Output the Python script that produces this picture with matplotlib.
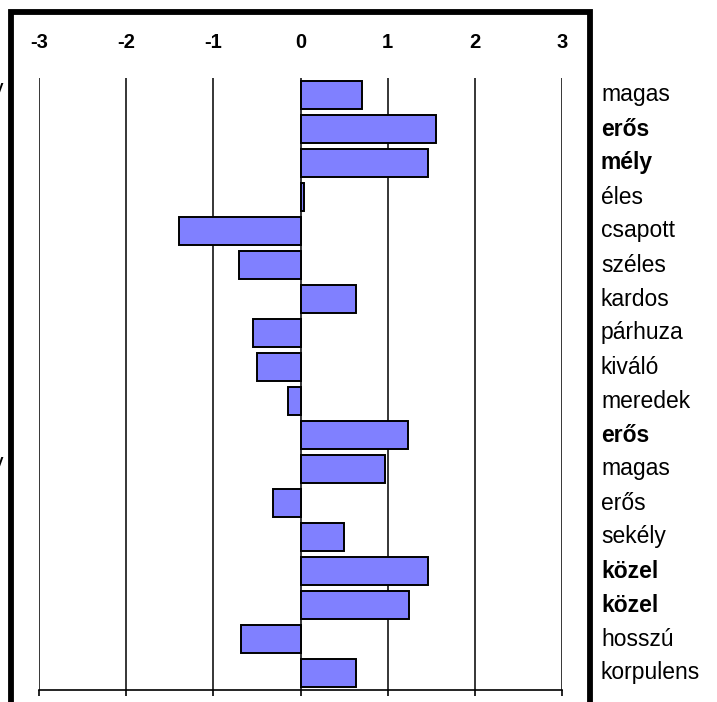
import matplotlib
matplotlib.use("Agg")
import matplotlib.pyplot as plt
from matplotlib.patches import Rectangle
import matplotlib.transforms as mtransforms

plt.rcParams['font.family'] = ['Liberation Sans', 'DejaVu Sans']

# data
labels = ['magas', 'erős', 'mély', 'éles', 'csapott', 'széles', 'kardos', 'párhuza',
          'kiváló', 'meredek', 'erős', 'magas', 'erős', 'sekély', 'közel', 'közel',
          'hosszú', 'korpulens']
bold_rows = [1, 2, 10, 14, 15]
values = [0.71, 1.55, 1.46, 0.04, -1.39, -0.71, 0.64, -0.55, -0.50, -0.14,
          1.23, 0.97, -0.32, 0.50, 1.46, 1.25, -0.68, 0.64]
left_labels = {0: 'alacsony', 11: 'alacsony'}
xticks = [-3, -2, -1, 0, 1, 2, 3]

W, H = 717, 702
fig = plt.figure(figsize=(W / 100, H / 100), dpi=100)
ax = fig.add_axes([39 / W, (H - 690) / H, 523 / W, 612 / H])

pos = list(range(len(values)))
ax.barh(pos, values, height=0.82, color='#8080FF', edgecolor='black',
        linewidth=1.4, zorder=3)

ax.set_xlim(-3, 3)
ax.set_ylim(len(values) - 0.5, -0.5)
ax.set_xticks(xticks)
ax.set_xticklabels([str(t) for t in xticks], fontsize=14.5, fontweight='bold')
ax.set_yticks([])
for t in xticks:
    ax.axvline(t, color='black', lw=1.1, zorder=1)

for s in ['top', 'left', 'right']:
    ax.spines[s].set_visible(False)
ax.spines['bottom'].set_linewidth(1.2)
ax.tick_params(axis='x', top=False, labeltop=True, bottom=True, labelbottom=False,
               direction='out', length=4.3, width=1.2, pad=14.5)

# category labels on the right, outside the frame
trans = mtransforms.blended_transform_factory(fig.transFigure, ax.transData)
for i, lab in enumerate(labels):
    ax.text(601 / W, i, lab, transform=trans, va='center', ha='left', fontsize=16.5,
            fontweight='bold' if i in bold_rows else 'normal', clip_on=False)
for i, lab in left_labels.items():
    ax.text(4 / W, i - 0.15, lab, transform=trans, va='center', ha='right', fontsize=16.5,
            clip_on=False)

# thick outer frame (cut at the bottom)
fig.add_artist(Rectangle((11 / W, -0.1), (590 - 11) / W, (H - 12) / H + 0.1,
                         transform=fig.transFigure, fill=False, lw=4.2,
                         edgecolor='black', clip_on=False))

fig.savefig('out.png', dpi=100, facecolor='white')
